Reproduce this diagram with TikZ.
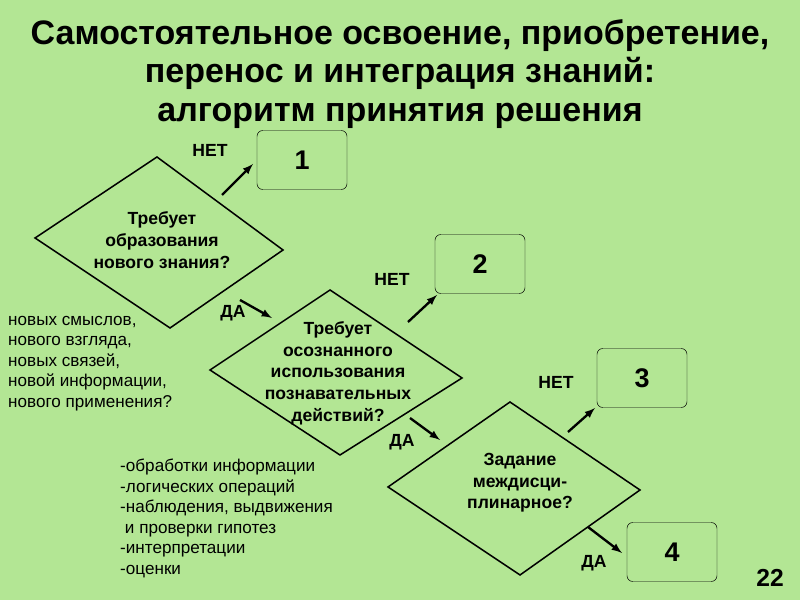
\documentclass[tikz,border=0pt]{standalone}
\usepackage{fontspec}
\setmainfont{Liberation Sans}
\definecolor{bg}{HTML}{B3E694}
\tikzset{
  dec/.style={line width=1.3pt},
  dectext/.style={font=\bfseries\fontsize{15}{18.5}\selectfont, align=center},
  numbox/.style={draw, rounded corners=5pt, minimum width=2.7cm, minimum height=1.77cm, font=\bfseries\fontsize{23}{26}\selectfont},
  lbl/.style={font=\bfseries\fontsize{15}{18}\selectfont},
  note/.style={font=\fontsize{14.6}{17.5}\selectfont, align=left, anchor=north west, inner sep=0pt},
  go/.style={-latex, line width=2pt}
}
\begin{document}
\begin{tikzpicture}[x=0.03cm, y=-0.03cm]
\fill[bg] (0,0) rectangle (800,600);
\useasboundingbox (0,0) rectangle (800,600);

\node[font=\bfseries\fontsize{29}{32.5}\selectfont, align=center] (title) at (400,74)
  {Самостоятельное освоение, приобретение,\\перенос и интеграция знаний:\\алгоритм принятия решения};

% decision diamonds
\draw[dec] (157,157) -- (283,250) -- (170,328) -- (35,238) -- cycle;
\draw[dec] (330,290) -- (462,378) -- (340,455) -- (210,370) -- cycle;
\draw[dec] (510,402) -- (640,490) -- (520,575) -- (388,487) -- cycle;
\node[dectext] (d1) at (162,240) {Требует\\образования\\нового знания?};
\node[dectext] (d2) at (338,373) {Требует\\осознанного\\использования\\познавательных\\действий?};
\node[dectext] (d3) at (520,483) {Задание\\междисци-\\плинарное?};

\node[numbox] (b1) at (302,160) {1};
\node[numbox] (b2) at (480,264) {2};
\node[numbox] (b3) at (642,378) {3};
\node[numbox] (b4) at (672,552) {4};

\coordinate (n1) at (222,195); \coordinate (n1e) at (253,164);
\coordinate (y1) at (240,300); \coordinate (y1e) at (272,318);
\coordinate (n2) at (408,322); \coordinate (n2e) at (437,295);
\coordinate (y2) at (410,418); \coordinate (y2e) at (440,440);
\coordinate (n3) at (568,432); \coordinate (n3e) at (595,408);
\coordinate (y3) at (588,527); \coordinate (y3e) at (622,553);
\draw[go] (n1) -- (n1e);
\draw[go] (y1) -- (y1e);
\draw[go] (n2) -- (n2e);
\draw[go] (y2) -- (y2e);
\draw[go] (n3) -- (n3e);
\draw[go] (y3) -- (y3e);

\node[lbl] (t1) at (210,150) {НЕТ};
\node[lbl] (t2) at (233,313) {ДА};
\node[lbl] (t3) at (392,279) {НЕТ};
\node[lbl] (t4) at (402,442) {ДА};
\node[lbl] (t5) at (556,382) {НЕТ};
\node[lbl] (t6) at (594,563) {ДА};

\node[note] (s1) at (8,316) {новых смыслов,\\нового взгляда,\\новых связей,\\новой информации,\\нового применения?};
\node[note] (s2) at (120,459) {-обработки информации\\-логических операций\\-наблюдения, выдвижения\\\ и проверки гипотез\\-интерпретации\\-оценки};

\node[font=\bfseries\fontsize{21}{24}\selectfont] (page) at (770,578) {22};
\end{tikzpicture}
\end{document}
